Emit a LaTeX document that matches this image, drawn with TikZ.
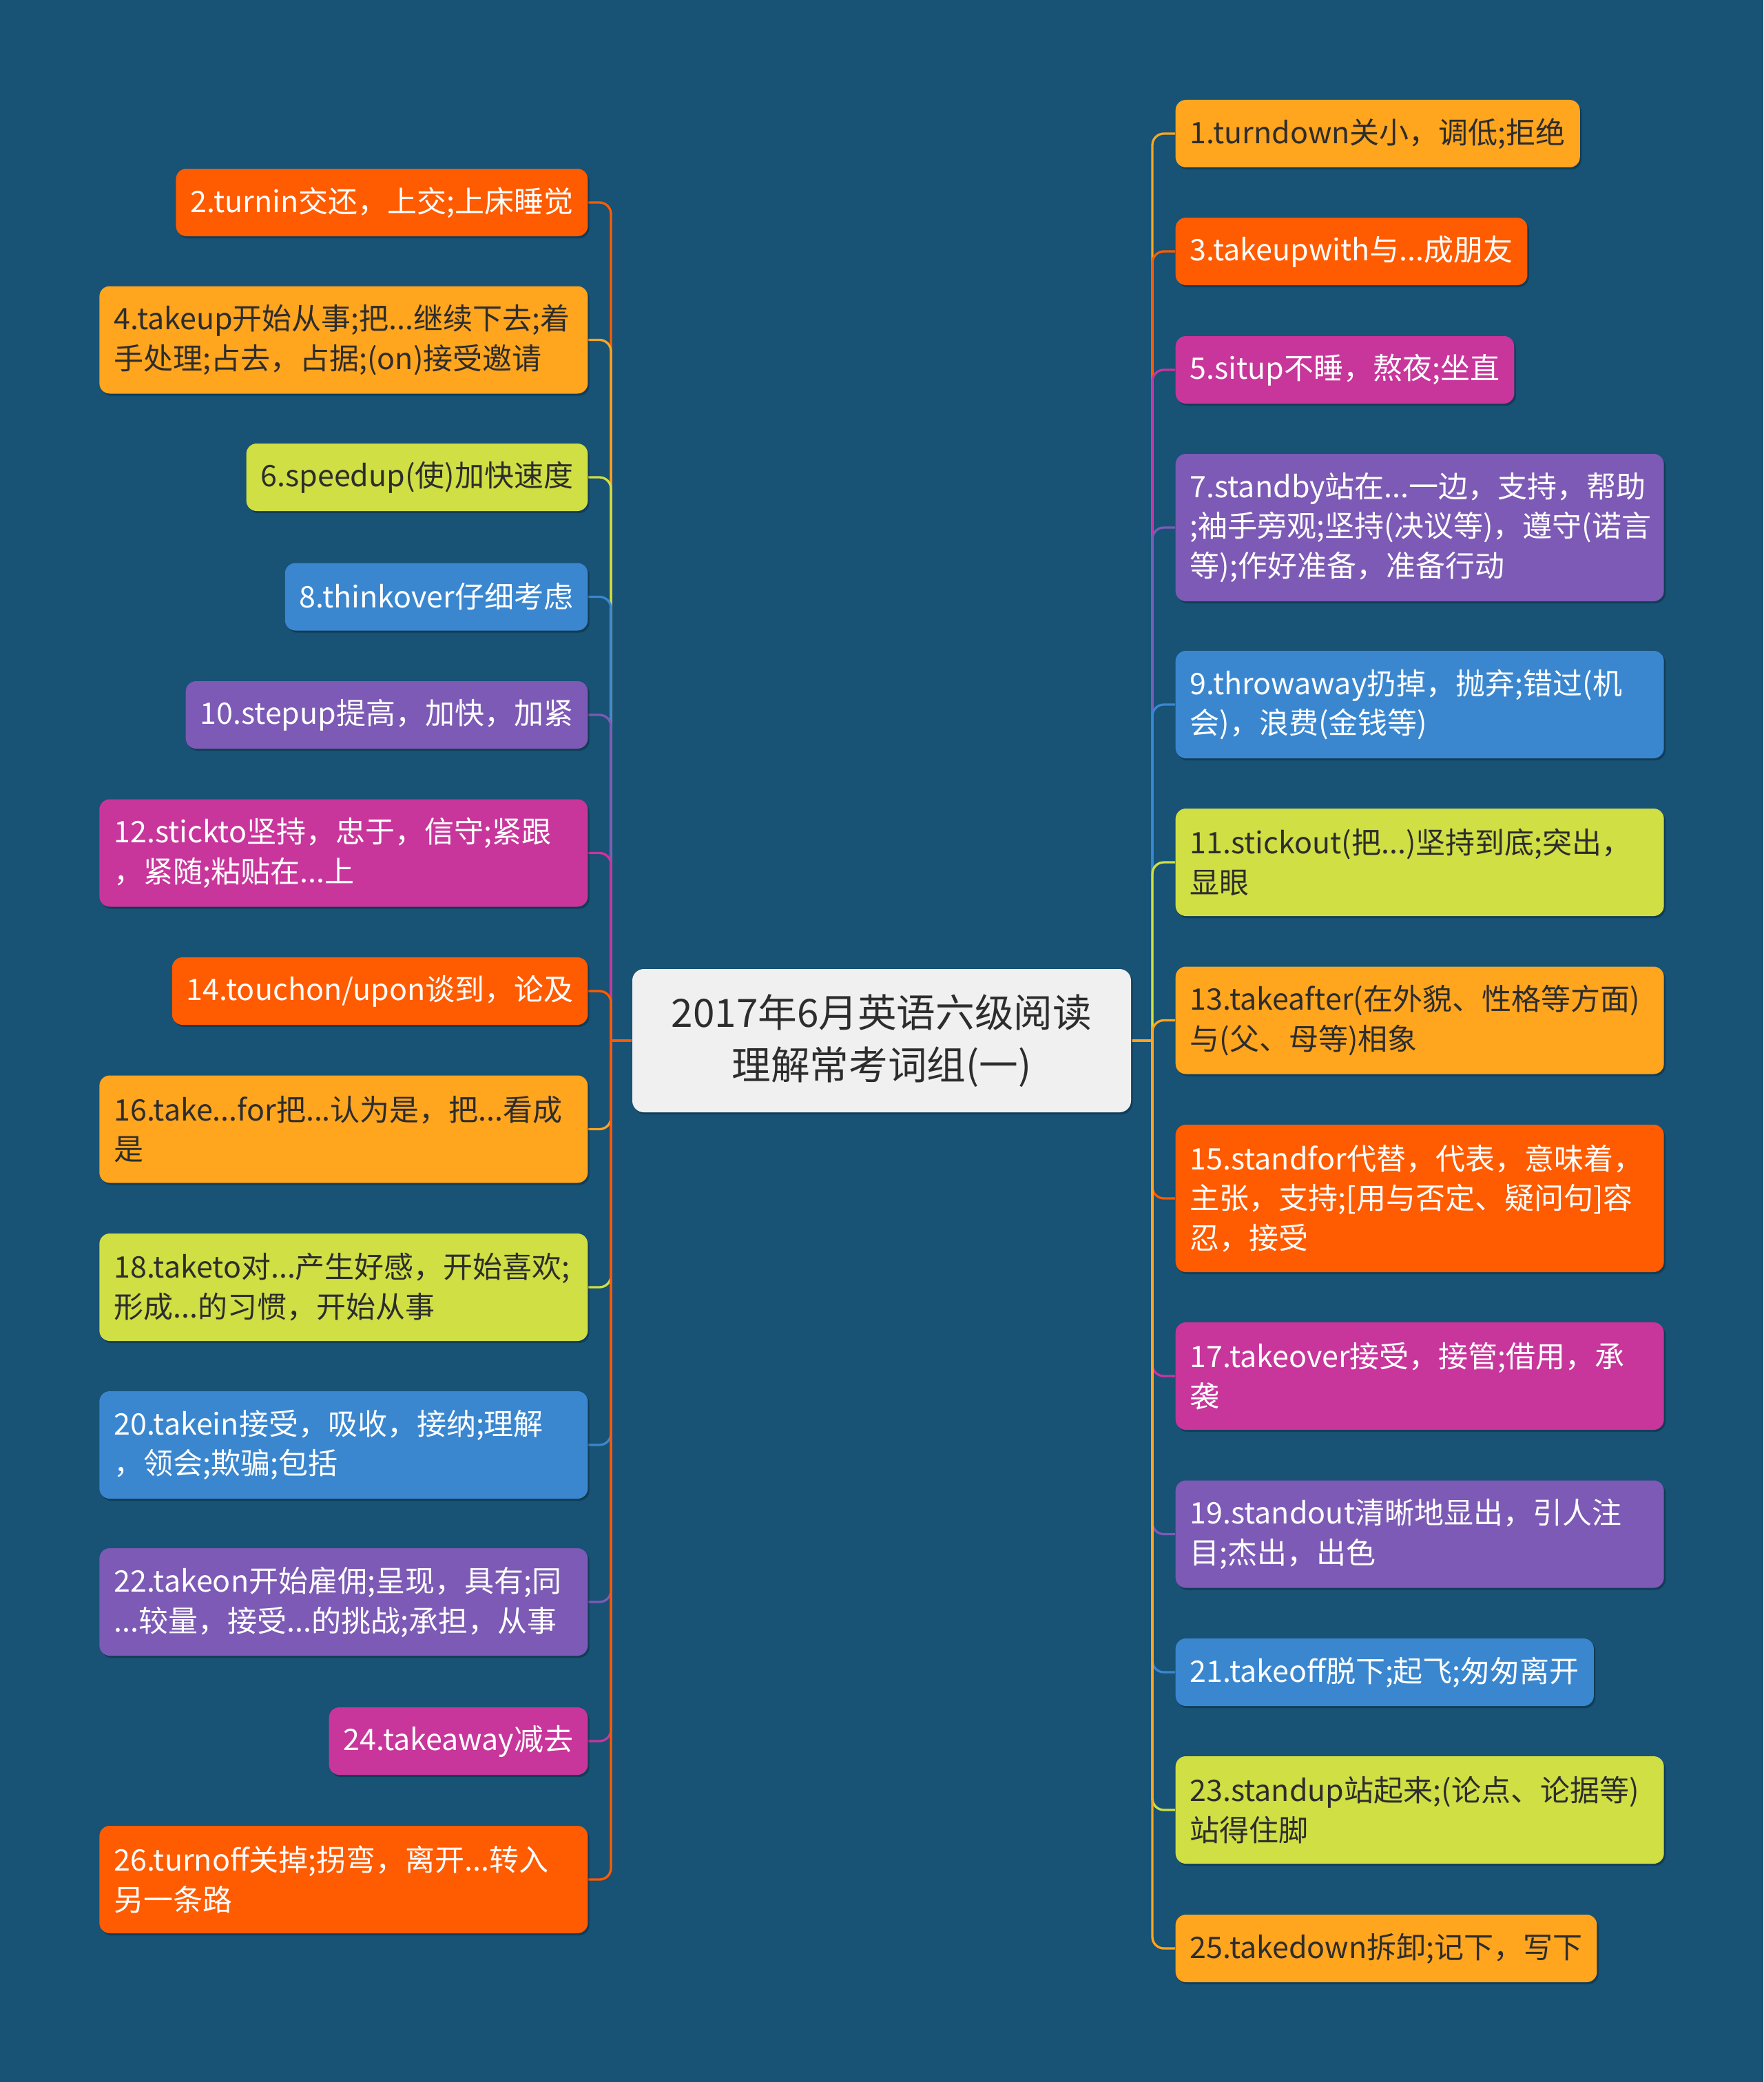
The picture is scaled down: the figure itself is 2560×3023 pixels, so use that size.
\documentclass[tikz,border=0pt]{standalone}
\usepackage{fontspec}
\setmainfont{Noto Sans CJK SC}
\usetikzlibrary{shadows,backgrounds}
\definecolor{bg}{HTML}{185275}
\definecolor{cRed}{HTML}{FF5B00}
\definecolor{cOra}{HTML}{FFA51E}
\definecolor{cYg}{HTML}{CFDF44}
\definecolor{cBlu}{HTML}{3A87D0}
\definecolor{cPur}{HTML}{7C5AB5}
\definecolor{cMag}{HTML}{C8369B}
\definecolor{cCen}{HTML}{F0F0F0}
\definecolor{txt}{HTML}{2D2D2D}
\newcommand\nodefnt{\fontsize{12.9pt}{17.3pt}\selectfont}
\newcommand\cenfnt{\fontsize{17pt}{22.6pt}\selectfont}
\tikzset{
  box/.style={rounded corners=4.5pt, inner xsep=6.3pt, inner ysep=0pt,
    minimum height=29.4pt, font=\nodefnt, align=left,
    drop shadow={shadow xshift=0.7pt, shadow yshift=-0.9pt, fill=black, opacity=0.25}},
  wide/.style={text width=200.1pt},
  two/.style={minimum height=46.8pt},
  three/.style={minimum height=64.2pt},
  lb/.style={box, anchor=east},
  rb/.style={box, anchor=west},
  fRed/.style={fill=cRed, text=white},
  fOra/.style={fill=cOra, text=txt},
  fYg/.style={fill=cYg, text=txt},
  fBlu/.style={fill=cBlu, text=white},
  fPur/.style={fill=cPur, text=white},
  fMag/.style={fill=cMag, text=white},
  link/.style={line width=1pt, rounded corners=5pt},
  centre/.style={fill=cCen, text=txt, rounded corners=5pt, minimum width=217.2pt,
    minimum height=62.4pt, font=\cenfnt, align=center, inner sep=0pt,
    drop shadow={shadow xshift=0.7pt, shadow yshift=-0.9pt, fill=black, opacity=0.25}}
}
\begin{document}
\begin{tikzpicture}[x=0.3pt,y=-0.3pt]
\useasboundingbox (0,0) rectangle (2560,3023);

\coordinate (TL) at (887,1511);
\coordinate (TR) at (1673,1511);

% centre
\node[centre] (c) at (1280,1511) {2017年6月英语六级阅读\\理解常考词组(一)};

% left nodes
\node[lb,fRed] (n2) at (854,294) {2.turnin交还，上交;上床睡觉};
\node[lb,fOra,wide,two] (n4) at (854,493.5) {4.takeup开始从事;把...继续下去;着\\手处理;占去，占据;(on)接受邀请};
\node[lb,fYg] (n6) at (854,693) {6.speedup(使)加快速度};
\node[lb,fBlu] (n8) at (854,866.5) {8.thinkover仔细考虑};
\node[lb,fPur] (n10) at (854,1038) {10.stepup提高，加快，加紧};
\node[lb,fMag,wide,two] (n12) at (854,1238.5) {12.stickto坚持，忠于，信守;紧跟\\，紧随;粘贴在...上};
\node[lb,fRed] (n14) at (854,1439) {14.touchon/upon谈到，论及};
\node[lb,fOra,wide,two] (n16) at (854,1639.5) {16.take...for把...认为是，把...看成\\是};
\node[lb,fYg,wide,two] (n18) at (854,1869) {18.taketo对...产生好感，开始喜欢;\\形成...的习惯，开始从事};
\node[lb,fBlu,wide,two] (n20) at (854,2098) {20.takein接受，吸收，接纳;理解\\，领会;欺骗;包括};
\node[lb,fPur,wide,two] (n22) at (854,2326) {22.takeon开始雇佣;呈现，具有;同\\...较量，接受...的挑战;承担，从事};
\node[lb,fMag] (n24) at (854,2528) {24.takeaway减去};
\node[lb,fRed,wide,two] (n26) at (854,2729) {26.turnoff关掉;拐弯，离开...转入\\另一条路};

% right nodes
\node[rb,fOra] (n1) at (1706,194) {1.turndown关小，调低;拒绝};
\node[rb,fRed] (n3) at (1706,365) {3.takeupwith与...成朋友};
\node[rb,fMag] (n5) at (1706,537) {5.situp不睡，熬夜;坐直};
\node[rb,fPur,wide,three] (n7) at (1706,766) {7.standby站在...一边，支持，帮助\\;袖手旁观;坚持(决议等)，遵守(诺言\\等);作好准备，准备行动};
\node[rb,fBlu,wide,two] (n9) at (1706,1023) {9.throwaway扔掉，抛弃;错过(机\\会)，浪费(金钱等)};
\node[rb,fYg,wide,two] (n11) at (1706,1252) {11.stickout(把...)坚持到底;突出，\\显眼};
\node[rb,fOra,wide,two] (n13) at (1706,1481.5) {13.takeafter(在外貌、性格等方面)\\与(父、母等)相象};
\node[rb,fRed,wide,three] (n15) at (1706,1740) {15.standfor代替，代表，意味着，\\主张，支持;[用与否定、疑问句]容\\忍，接受};
\node[rb,fMag,wide,two] (n17) at (1706,1998) {17.takeover接受，接管;借用，承\\袭};
\node[rb,fPur,wide,two] (n19) at (1706,2227.5) {19.standout清晰地显出，引人注\\目;杰出，出色};
\node[rb,fBlu] (n21) at (1706,2428) {21.takeoff脱下;起飞;匆匆离开};
\node[rb,fYg,wide,two] (n23) at (1706,2628) {23.standup站起来;(论点、论据等)\\站得住脚};
\node[rb,fOra] (n25) at (1706,2829) {25.takedown拆卸;记下，写下};

% background and connectors
\begin{scope}[on background layer]
\fill[bg] (0,0) rectangle (2560,3023);
\draw[link,cRed] (c.west) -- (TL);
\draw[link,cOra] (c.east) -- (TR);
\draw[link,cRed] (TL) |- (n2.east);
\draw[link,cOra] (TL) |- (n4.east);
\draw[link,cYg]  (TL) |- (n6.east);
\draw[link,cBlu] (TL) |- (n8.east);
\draw[link,cPur] (TL) |- (n10.east);
\draw[link,cMag] (TL) |- (n12.east);
\draw[link,cRed] (TL) |- (n14.east);
\draw[link,cOra] (TL) |- (n16.east);
\draw[link,cYg]  (TL) |- (n18.east);
\draw[link,cBlu] (TL) |- (n20.east);
\draw[link,cPur] (TL) |- (n22.east);
\draw[link,cMag] (TL) |- (n24.east);
\draw[link,cRed] (TL) |- (n26.east);
\draw[link,cOra] (TR) |- (n1.west);
\draw[link,cRed] (TR) |- (n3.west);
\draw[link,cMag] (TR) |- (n5.west);
\draw[link,cPur] (TR) |- (n7.west);
\draw[link,cBlu] (TR) |- (n9.west);
\draw[link,cYg]  (TR) |- (n11.west);
\draw[link,cOra] (TR) |- (n13.west);
\draw[link,cRed] (TR) |- (n15.west);
\draw[link,cMag] (TR) |- (n17.west);
\draw[link,cPur] (TR) |- (n19.west);
\draw[link,cBlu] (TR) |- (n21.west);
\draw[link,cYg]  (TR) |- (n23.west);
\draw[link,cOra] (TR) |- (n25.west);
\end{scope}
\end{tikzpicture}
\end{document}
